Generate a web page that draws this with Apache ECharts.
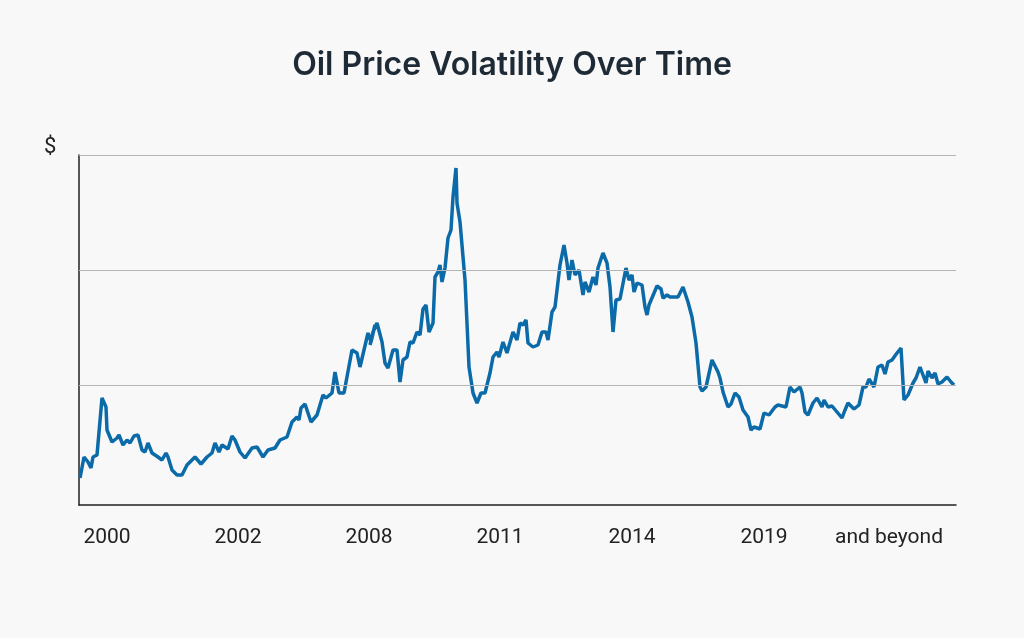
<!DOCTYPE html>
<html><head><meta charset="utf-8">
<script src="https://cdn.jsdelivr.net/npm/echarts@6/dist/echarts.min.js"></script>
<style>html,body{margin:0;padding:0;background:#f8f8f8}#c{width:1024px;height:638px}</style>
</head><body><div id="c"></div>
<script>
// time offset (arbitrary units along axis) and price (arbitrary units)
const timeValues = [1,5,9,12,14,18,23,27,28,33,38,40,44,48,51,55,59,63,66,69,73,79,83,87,89,93,98,103,108,116,122,128,133,136,140,143,149,153,156,161,166,173,178,184,189,196,201,208,213,218,220,222,226,232,238,244,247,253,256,260,265,273,278,281,289,292,296,
291,294,298,303,306,309,314,318,321,324,328,331,334,338,341,344,347,350,354,356,359,361,363,366,369,372,374,377,378,381,386,390,394,398,402,406,411,414,418,420,424,428,434,438,441,444,447,449,454,459,463,467,469,473,476,481,485,488,490,493,496,500,504,506,510,514,517,519,524,528,531,534,537,541,547,550,553,555,558,563,566,568,570,578,582,584,588,591,
592,599,604,609,613,617,621,623,627,629,633,635,639,641,644,646,649,652,656,660,664,669,672,675,681,685,690,696,699,707,711,715,721,723,726,729,734,738,743,745,749,753,763,766,769,775,780,784,787,790,795,799,803,806,809,813,818,822,825,829,834,837,841,847,849,853,856,859,863,868,872,875];
const priceValues = [27,48,43,37,48,50,107,98,75,63,67,70,60,65,62,69,70,55,53,62,52,48,45,52,48,35,30,30,40,48,41,48,52,62,53,60,56,69,65,53,47,57,58,48,55,57,65,68,83,88,85,97,101,83,90,110,107,112,133,112,112,155,152,138,172,163,180,
160,173,182,163,142,137,155,155,123,145,148,163,162,173,170,196,200,173,182,228,233,240,223,237,267,275,308,337,302,283,225,138,112,102,112,112,132,148,153,148,163,152,173,165,182,180,185,162,158,160,173,173,165,193,198,240,260,242,225,245,230,235,210,223,213,228,220,237,252,242,218,173,205,206,237,225,230,213,222,220,198,190,200,219,216,207,210,208,
210,208,218,203,188,162,118,114,118,118,145,146,133,127,113,115,98,101,112,108,95,88,75,78,76,92,90,98,100,98,118,113,118,112,93,90,102,107,98,105,98,99,87,95,102,96,100,118,118,126,118,138,140,131,143,145,152,157,105,110,122,127,138,122,134,127,132,121,123,128,123,120,98];
const tickPositions = [28,159,290,421,553,685,810];
const tickLabels = ['2000','2002','2008','2011','2014','2019','and beyond'];
const gridValues = [120,235,350];

const chart = echarts.init(document.getElementById('c'));
chart.setOption({
  backgroundColor:'#f8f8f8',
  animation:false,
  title:{text:'Oil Price Volatility Over Time',left:'center',top:44,
    textStyle:{fontFamily:'Inter',fontSize:32,fontWeight:600,color:'#1e2b36'}},
  graphic:[{type:'text',left:44,top:136,style:{text:'$',font:'22px Roboto',fill:'#222'}}],
  grid:{left:79,right:68,top:155,bottom:133},
  xAxis:{type:'value',min:0,max:877,
    axisLine:{show:true,lineStyle:{color:'#222',width:1.5}},
    axisTick:{show:false},splitLine:{show:false},
    axisLabel:{customValues:tickPositions,margin:22,fontFamily:'Roboto',fontSize:21,color:'#222',
      formatter:v=>tickLabels[tickPositions.indexOf(v)]||''}},
  yAxis:{type:'value',min:0,max:350,
    axisLine:{show:true,onZero:false,lineStyle:{color:'#222',width:1.5}},
    axisTick:{show:false},axisLabel:{show:false},splitLine:{show:false}},
  series:[{type:'line',data:timeValues.map((t,i)=>[t,priceValues[i]]),
    showSymbol:false,lineStyle:{color:'#0b6aa8',width:3.5},
    markLine:{silent:true,symbol:'none',label:{show:false},
      lineStyle:{color:'#b5b5b5',width:1.2,type:'solid'},
      data:gridValues.map(v=>({yAxis:v}))}}]
});
</script></body></html>
